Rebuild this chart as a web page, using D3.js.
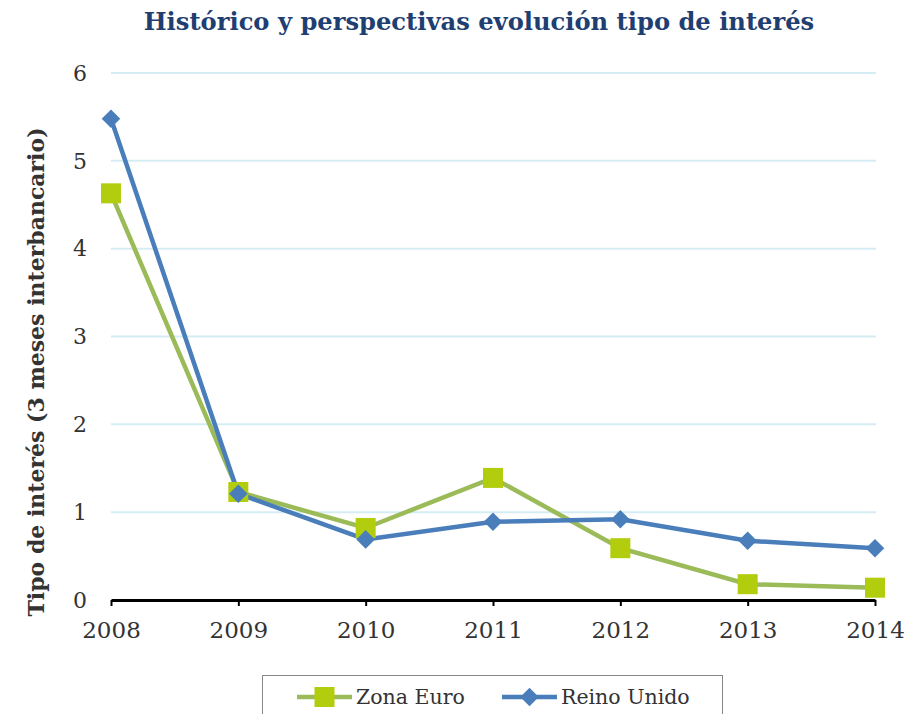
<!DOCTYPE html>
<html>
<head>
<meta charset="utf-8">
<script src="https://cdn.jsdelivr.net/npm/d3@7"></script>
<style>
  body { margin: 0; background: #fff; }
  text { font-family: Georgia, "DejaVu Serif", serif; }
</style>
</head>
<body>
<svg id="chart" width="917" height="714"></svg>
<script>
// data
const years = [2008, 2009, 2010, 2011, 2012, 2013, 2014];
const zonaEuro = [4.63, 1.23, 0.82, 1.39, 0.59, 0.18, 0.14];
const reinoUnido = [5.48, 1.21, 0.69, 0.89, 0.92, 0.675, 0.59];
const yTicks = [0, 1, 2, 3, 4, 5, 6];

const svg = d3.select('#chart');

const x = d3.scalePoint().domain(years).range([111, 875]);
const y = d3.scaleLinear().domain([0, 6]).range([600, 73]);

// title
svg.append('text')
  .attr('x', 479)
  .attr('y', 30)
  .attr('text-anchor', 'middle')
  .attr('font-size', 24.2)
  .attr('font-weight', 'bold')
  .attr('fill', '#1f3f73')
  .text('Histórico y perspectivas evolución tipo de interés');

// gridlines
svg.append('g')
  .selectAll('line')
  .data(yTicks.filter(d => d > 0))
  .enter()
  .append('line')
  .attr('x1', 111)
  .attr('x2', 876)
  .attr('y1', d => y(d))
  .attr('y2', d => y(d))
  .attr('stroke', '#d6ecf4')
  .attr('stroke-width', 2);

// y tick labels
svg.append('g')
  .selectAll('text')
  .data(yTicks)
  .enter()
  .append('text')
  .attr('x', 80)
  .attr('y', d => y(d))
  .attr('dy', '0.35em')
  .attr('text-anchor', 'middle')
  .attr('font-size', 22)
  .attr('fill', '#333')
  .text(d => d);

// x axis
const xAxis = svg.append('g')
  .attr('transform', 'translate(0,600)')
  .call(d3.axisBottom(x).tickSize(6).tickPadding(16).tickSizeOuter(0));
xAxis.select('.domain').attr('stroke', '#000').attr('stroke-width', 3);
xAxis.selectAll('.tick line').attr('stroke', '#000').attr('stroke-width', 2);
xAxis.selectAll('.tick text')
  .attr('font-size', 23)
  .attr('fill', '#333')
  .attr('font-family', 'Georgia, "DejaVu Serif", serif');

// y axis title
svg.append('text')
  .attr('transform', 'translate(44,372) rotate(-90)')
  .attr('text-anchor', 'middle')
  .attr('font-size', 22)
  .attr('font-weight', 'bold')
  .attr('fill', '#333')
  .text('Tipo de interés (3 meses interbancario)');

const line = d3.line()
  .x((d, i) => x(years[i]))
  .y(d => y(d));

// Zona Euro
svg.append('path')
  .datum(zonaEuro)
  .attr('d', line)
  .attr('fill', 'none')
  .attr('stroke', '#9bbb59')
  .attr('stroke-width', 4.5);

// Reino Unido
svg.append('path')
  .datum(reinoUnido)
  .attr('d', line)
  .attr('fill', 'none')
  .attr('stroke', '#4a7ebb')
  .attr('stroke-width', 4.5);

svg.append('g')
  .selectAll('rect')
  .data(zonaEuro)
  .enter()
  .append('rect')
  .attr('x', (d, i) => x(years[i]) - 10)
  .attr('y', d => y(d) - 10)
  .attr('width', 20)
  .attr('height', 20)
  .attr('fill', '#b2cc0e');

const diamond = d3.symbol().type(d3.symbolDiamond2).size(220);
svg.append('g')
  .selectAll('path')
  .data(reinoUnido)
  .enter()
  .append('path')
  .attr('d', diamond)
  .attr('transform', (d, i) => `translate(${x(years[i])},${y(d)})`)
  .attr('fill', '#4a7ebb');

// legend
const legend = svg.append('g');
legend.append('rect')
  .attr('x', 262.5)
  .attr('y', 675.5)
  .attr('width', 460)
  .attr('height', 60)
  .attr('fill', '#fff')
  .attr('stroke', '#888');

const items = [
  { name: 'Zona Euro', color: '#9bbb59', x1: 297, shape: 'square' },
  { name: 'Reino Unido', color: '#4a7ebb', x1: 502, shape: 'diamond' }
];
items.forEach(it => {
  legend.append('line')
    .attr('x1', it.x1).attr('x2', it.x1 + 55)
    .attr('y1', 697).attr('y2', 697)
    .attr('stroke', it.color)
    .attr('stroke-width', 4.5);
  if (it.shape === 'square') {
    legend.append('rect')
      .attr('x', it.x1 + 17.5).attr('y', 687)
      .attr('width', 20).attr('height', 20)
      .attr('fill', '#b2cc0e');
  } else {
    legend.append('path')
      .attr('d', diamond)
      .attr('transform', `translate(${it.x1 + 27.5},697)`)
      .attr('fill', it.color);
  }
  legend.append('text')
    .attr('x', it.x1 + 59)
    .attr('y', 704)
    .attr('font-size', 20.5)
    .attr('fill', '#333')
    .text(it.name);
});
</script>
</body>
</html>
